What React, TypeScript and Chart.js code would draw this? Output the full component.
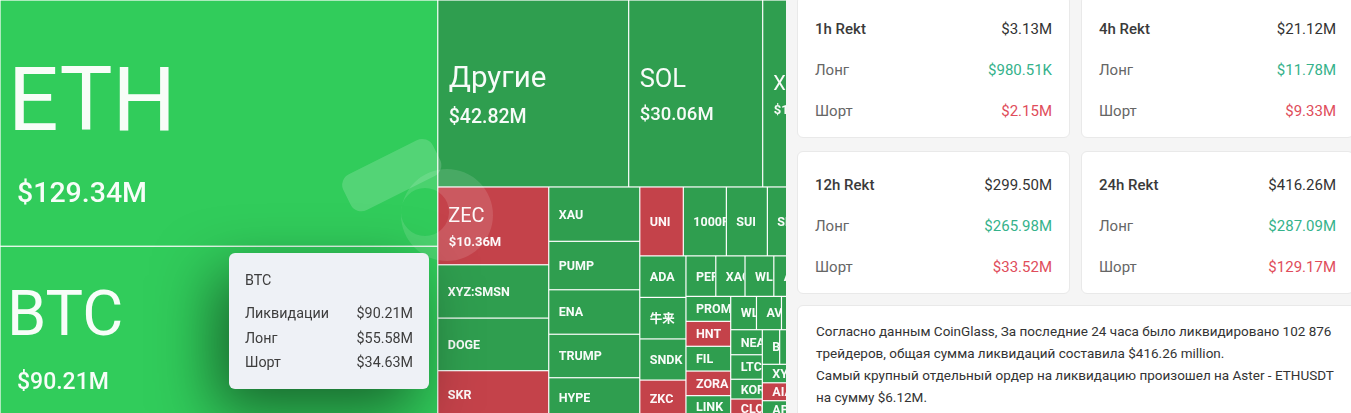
import { useEffect, useRef } from "react";
import { Chart, registerables } from "chart.js";

Chart.register(...registerables);

// ---------- data (24h liquidations, $M) ----------
const coins = [
  "ETH", "BTC", "Другие", "SOL", "XRP", "ZEC", "XYZ:SMSN", "DOGE", "SKR", "XAU",
  "PUMP", "ENA", "TRUMP", "HYPE", "UNI", "1000PEPE", "SUI", "SKY", "TAO", "ADA",
  "牛来", "SNDK", "ZKC", "PEPE", "XAG", "WLFI", "ASTER", "ONDO", "PROM", "HNT",
  "FIL", "ZORA", "LINK", "WLD", "AVAX", "ARB", "OP", "NEAR", "LTC", "KORI",
  "CLO", "BTR", "DOT", "BCH", "AAVE", "XYZ:TSLA", "AIA", "APT", "TIA", "INJ",
  "SEI", "ETC", "WIF",
];
const liquidations = [
  129.34, 90.21, 42.82, 30.06, 15.1, 10.36, 7.1, 7.0, 6.3, 5.94,
  5.29, 4.86, 4.75, 4.4, 3.6, 3.56, 3.39, 2.7, 2.48, 2.3,
  2.3, 2.28, 2.1, 1.45, 1.42, 1.4, 1.38, 1.35, 1.34, 1.34,
  1.33, 1.32, 1.2, 1.03, 1.0, 0.98, 0.96, 0.95, 0.93, 0.75,
  0.72, 0.72, 0.72, 0.71, 0.66, 0.62, 0.6, 0.58, 0.55, 0.52,
  0.5, 0.5, 0.49,
];
// which side dominated the liquidations
const tones = [
  "strong", "strong", "long", "long", "long", "short", "long", "long", "short", "long",
  "long", "long", "long", "long", "short", "long", "long", "long", "long", "long",
  "long", "long", "short", "long", "long", "long", "long", "long", "long", "short",
  "long", "short", "long", "long", "long", "long", "long", "long", "long", "long",
  "short", "long", "long", "long", "long", "long", "short", "long", "long", "long",
  "long", "long", "long",
];

const tooltipCoin = "BTC";
const tooltipRows = [
  ["Ликвидации", "$90.21M"],
  ["Лонг", "$55.58M"],
  ["Шорт", "$34.63M"],
];

const rektPeriods = ["1h Rekt", "4h Rekt", "12h Rekt", "24h Rekt"];
const rektTotal = ["$3.13M", "$21.12M", "$299.50M", "$416.26M"];
const rektLong = ["$980.51K", "$11.78M", "$265.98M", "$287.09M"];
const rektShort = ["$2.15M", "$9.33M", "$33.52M", "$129.17M"];

const summaryLines = [
  "Согласно данным CoinGlass, За последние 24 часа было ликвидировано 102 876",
  "трейдеров, общая сумма ликвидаций составила $416.26 million.",
  "Самый крупный отдельный ордер на ликвидацию произошел на Aster - ETHUSDT",
  "на сумму $6.12M.",
];

// ---------- style ----------
const FONT = "Roboto, 'Noto Sans', 'Noto Sans CJK SC', sans-serif";
const MAP_W = 830;
const MAP_H = 418;
const GOLDEN = 0.5 * (1 + Math.sqrt(5));
const GAP = 1.2;
const TONE_COLORS: Record<string, string> = {
  strong: "#31cc5b",
  long: "#2f9e4f",
  short: "#c4424a",
};
const LABEL_TIERS = [
  { min: 100, name: 89, value: 28.5, nameX: 8, valueX: 17, nameW: 400 },
  { min: 60, name: 63, value: 23, nameX: 7, valueX: 17, nameW: 400 },
  { min: 40, name: 29.5, value: 19.5, nameX: 11, valueX: 11, nameW: 400 },
  { min: 25, name: 25.5, value: 18.5, nameX: 11, valueX: 11, nameW: 400 },
  { min: 10, name: 20, value: 13, nameX: 10.5, valueX: 11, nameW: 400 },
];

type Rect = { x: number; y: number; w: number; h: number };

// ECharts-style squarified treemap layout
function squarify(vals: number[], W: number, H: number, ratio: number): Rect[] {
  const total = vals.reduce((a, b) => a + b, 0);
  const order = vals.map((_, i) => i).sort((a, b) => vals[b] - vals[a]);
  const areas = vals.map((v) => (v / total) * W * H);
  const rect = { x: 0, y: 0, w: W, h: H };
  const out: Rect[] = new Array(vals.length);
  const worst = (row: number[], rowArea: number, len: number) => {
    let mx = 0;
    let mn = Infinity;
    for (const i of row) {
      mx = Math.max(mx, areas[i]);
      mn = Math.min(mn, areas[i]);
    }
    const sq = rowArea * rowArea;
    const f = len * len * ratio;
    return sq ? Math.max((f * mx) / sq, sq / (f * mn)) : Infinity;
  };
  const position = (row: number[], rowArea: number, len: number, flush: boolean) => {
    const horiz = len === rect.w;
    let other = len ? rowArea / len : 0;
    const otherMax = horiz ? rect.h : rect.w;
    if (flush || other > otherMax) other = otherMax;
    let last = horiz ? rect.x : rect.y;
    const end = horiz ? rect.x + rect.w : rect.y + rect.h;
    row.forEach((i, k) => {
      const step = other ? areas[i] / other : 0;
      const remain = end - last;
      const m = k === row.length - 1 || remain < step ? remain : step;
      out[i] = horiz ? { x: last, y: rect.y, w: m, h: other } : { x: rect.x, y: last, w: other, h: m };
      last += m;
    });
    if (horiz) {
      rect.y += other;
      rect.h -= other;
    } else {
      rect.x += other;
      rect.w -= other;
    }
  };
  let row: number[] = [];
  let rowArea = 0;
  let score = Infinity;
  let len = Math.min(rect.w, rect.h);
  for (let k = 0; k < order.length; ) {
    const i = order[k];
    row.push(i);
    rowArea += areas[i];
    const s2 = worst(row, rowArea, len);
    if (s2 <= score) {
      k++;
      score = s2;
    } else {
      row.pop();
      rowArea -= areas[i];
      position(row, rowArea, len, false);
      len = Math.min(rect.w, rect.h);
      row = [];
      rowArea = 0;
      score = Infinity;
    }
  }
  if (row.length) position(row, rowArea, len, true);
  return out;
}

function makeTreemapPlugin(rects: Rect[]) {
  return {
    id: "treemapCells",
    beforeDatasetsDraw(chart: any) {
      const { ctx, chartArea } = chart;
      const xs = chart.scales.x;
      const ys = chart.scales.y;
      const g = GAP / 2;
      ctx.save();
      ctx.fillStyle = "#ffffff";
      ctx.fillRect(chartArea.left, chartArea.top, chartArea.width, chartArea.height);
      const px = rects.map((r) => {
        const x0 = xs.getPixelForValue(r.x);
        const x1 = xs.getPixelForValue(r.x + r.w);
        const y0 = ys.getPixelForValue(r.y);
        const y1 = ys.getPixelForValue(r.y + r.h);
        return { x0, x1, y0, y1 };
      });
      px.forEach((p, i) => {
        ctx.fillStyle = TONE_COLORS[tones[i]];
        ctx.fillRect(p.x0 + g, p.y0 + g, p.x1 - p.x0 - 2 * g, p.y1 - p.y0 - 2 * g);
      });

      // faint watermark
      ctx.save();
      ctx.translate(chartArea.left + 390, chartArea.top + 176);
      ctx.rotate((-26.6 * Math.PI) / 180);
      ctx.fillStyle = "rgba(255,255,255,0.17)";
      ctx.beginPath();
      (ctx as any).roundRect(-48, -20, 100, 40, 12);
      ctx.fill();
      ctx.restore();
      ctx.save();
      ctx.fillStyle = "rgba(255,255,255,0.12)";
      ctx.beginPath();
      ctx.arc(chartArea.left + 447, chartArea.top + 215, 46, 0, Math.PI * 2);
      ctx.arc(chartArea.left + 425, chartArea.top + 212, 24, 0, Math.PI * 2, true);
      ctx.fill("evenodd");
      ctx.restore();

      // labels
      px.forEach((p, i) => {
        const v = liquidations[i];
        const w = p.x1 - p.x0;
        const h = p.y1 - p.y0;
        ctx.save();
        ctx.beginPath();
        ctx.rect(p.x0 + g, p.y0 + g, w - 2 * g, h - 2 * g);
        ctx.clip();
        ctx.fillStyle = "rgba(255,255,255,0.96)";
        ctx.textAlign = "left";
        ctx.textBaseline = "alphabetic";
        const cy = (p.y0 + p.y1) / 2;
        const tier = LABEL_TIERS.find((t) => v >= t.min);
        if (tier) {
          ctx.font = `${tier.nameW} ${tier.name}px ${FONT}`;
          ctx.fillText(coins[i], p.x0 + tier.nameX, cy - 0.85 * tier.value + 0.355 * tier.name);
          ctx.font = `${tier.value < 15 ? 700 : 500} ${tier.value}px ${FONT}`;
          ctx.fillText(`$${v.toFixed(2)}M`, p.x0 + tier.valueX, cy + 0.775 * tier.name + 0.355 * tier.value);
        } else {
          ctx.font = `700 12.5px ${FONT}`;
          ctx.fillText(coins[i], p.x0 + 10, cy + 0.355 * 12.5);
        }
        ctx.restore();
      });
      ctx.restore();
    },
  };
}

const cardStyle: React.CSSProperties = {
  boxSizing: "border-box",
  height: 143,
  background: "#ffffff",
  border: "1px solid #e9e9e9",
  borderRadius: 6,
  padding: "12px 17px 6px 17px",
};
const rowStyle: React.CSSProperties = {
  height: 41,
  display: "flex",
  alignItems: "center",
  justifyContent: "space-between",
  fontSize: 15,
};

export default function App() {
  const canvasRef = useRef<HTMLCanvasElement>(null);

  useEffect(() => {
    const rects = squarify(liquidations, MAP_W, MAP_H, GOLDEN);
    const chart = new Chart(canvasRef.current as HTMLCanvasElement, {
      type: "scatter",
      data: {
        datasets: [
          {
            data: rects.map((r) => ({ x: r.x + r.w / 2, y: r.y + r.h / 2 })),
            pointRadius: 0,
          },
        ],
      },
      options: {
        animation: false,
        responsive: true,
        maintainAspectRatio: false,
        events: [],
        layout: { padding: 0 },
        scales: {
          x: { type: "linear", min: 0, max: MAP_W, display: false },
          y: { type: "linear", min: 0, max: MAP_H, reverse: true, display: false },
        },
        plugins: { legend: { display: false }, tooltip: { enabled: false } },
      },
      plugins: [makeTreemapPlugin(rects)],
    });
    return () => chart.destroy();
  }, []);

  return (
    <div
      style={{
        position: "fixed",
        left: 0,
        top: 0,
        width: "100vw",
        height: "100vh",
        overflow: "hidden",
        background: "#ffffff",
        fontFamily: FONT,
      }}
    >
      <div style={{ position: "absolute", left: 0, top: 0, width: MAP_W, height: MAP_H }}>
        <canvas ref={canvasRef} />
      </div>

      {/* tooltip */}
      <div
        style={{
          position: "absolute",
          left: 229,
          top: 253,
          width: 200,
          height: 136,
          boxSizing: "border-box",
          background: "#eef1f6",
          borderRadius: 6,
          boxShadow: "-14px 22px 60px rgba(0,0,0,0.5)",
          padding: "16px 16px 0 16px",
          color: "#3d3d3d",
          fontSize: 14.3,
          zIndex: 3,
        }}
      >
        <div style={{ height: 22, lineHeight: "22px", marginBottom: 10 }}>{tooltipCoin}</div>
        {tooltipRows.map((r) => (
          <div
            key={r[0]}
            style={{ height: 24.5, lineHeight: "24.5px", display: "flex", justifyContent: "space-between" }}
          >
            <span>{r[0]}</span>
            <span>{r[1]}</span>
          </div>
        ))}
      </div>

      {/* right panel */}
      <div
        style={{
          position: "absolute",
          left: 786,
          top: 0,
          width: 620,
          height: 430,
          background: "#f5f5f5",
          zIndex: 2,
        }}
      >
        <div
          style={{
            position: "absolute",
            left: 11,
            top: -5,
            display: "grid",
            gridTemplateColumns: "273px 273px",
            columnGap: 11,
            rowGap: 13,
          }}
        >
          {rektPeriods.map((p, i) => (
            <div key={p} style={cardStyle}>
              <div style={{ ...rowStyle, color: "#333" }}>
                <span style={{ fontWeight: 500, color: "#3a3a3a" }}>{p}</span>
                <span>{rektTotal[i]}</span>
              </div>
              <div style={rowStyle}>
                <span style={{ color: "#666" }}>Лонг</span>
                <span style={{ color: "#35b28b" }}>{rektLong[i]}</span>
              </div>
              <div style={rowStyle}>
                <span style={{ color: "#666" }}>Шорт</span>
                <span style={{ color: "#e04d5b" }}>{rektShort[i]}</span>
              </div>
            </div>
          ))}
        </div>
        <div
          style={{
            position: "absolute",
            left: 11,
            top: 305,
            width: 600,
            height: 160,
            boxSizing: "border-box",
            background: "#ffffff",
            border: "1px solid #e9e9e9",
            borderRadius: 6,
            padding: "14px 18px",
            fontSize: 13.5,
            lineHeight: "22px",
            color: "#333",
            whiteSpace: "nowrap",
          }}
        >
          {summaryLines.map((l) => (
            <div key={l}>{l}</div>
          ))}
        </div>
      </div>
    </div>
  );
}
